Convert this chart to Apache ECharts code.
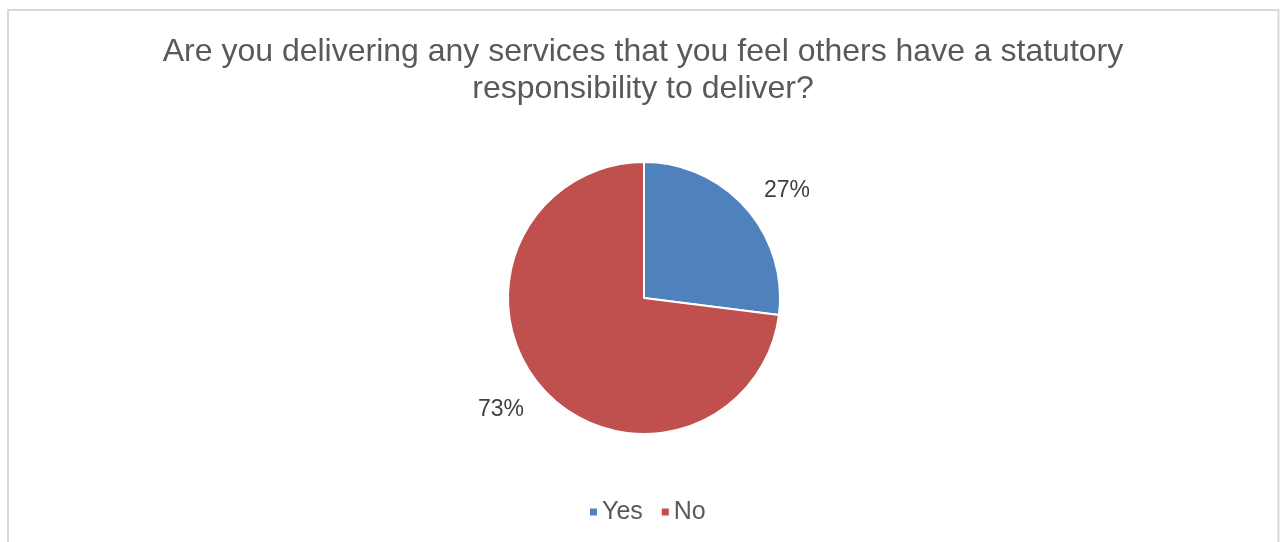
<!DOCTYPE html>
<html>
<head>
<meta charset="utf-8">
<script src="https://cdn.jsdelivr.net/npm/echarts@6/dist/echarts.min.js"></script>
<style>
  html, body { margin: 0; padding: 0; background: #ffffff; }
  #chart { width: 1285px; height: 542px; }
</style>
</head>
<body>
<div id="chart"></div>
<script>
// Survey answers and their shares (percent)
const categories = ['Yes', 'No'];
const shares = [27, 73];
const colors = ['#4F81BD', '#C0504D'];
const titleText = 'Are you delivering any services that you feel others have a statutory\nresponsibility to deliver?';

const FONT = '"Liberation Sans", Arial, sans-serif';

const chart = echarts.init(document.getElementById('chart'), null, { renderer: 'canvas' });

chart.setOption({
  animation: false,
  backgroundColor: '#ffffff',
  graphic: [{
    type: 'rect',
    shape: { x: 8, y: 10, width: 1270.5, height: 600 },
    style: { fill: 'none', stroke: '#d9d9d9', lineWidth: 2 },
    silent: true,
    z: -1
  }],
  title: {
    text: titleText,
    left: 643,
    top: 34,
    padding: 0,
    textAlign: 'center',
    textStyle: {
      fontFamily: FONT,
      fontSize: 32,
      fontWeight: 'normal',
      color: '#595959',
      lineHeight: 37
    }
  },
  legend: {
    data: categories,
    left: 590,
    top: 499,
    padding: 0,
    icon: 'rect',
    itemWidth: 7,
    itemHeight: 7,
    itemGap: 19,
    itemStyle: { borderWidth: 0 },
    textStyle: {
      fontFamily: FONT,
      fontSize: 25,
      color: '#595959',
      lineHeight: 26
    }
  },
  series: [{
    type: 'pie',
    center: [644, 298],
    radius: 136,
    startAngle: 90,
    clockwise: true,
    avoidLabelOverlap: false,
    itemStyle: { borderColor: '#ffffff', borderWidth: 2 },
    label: {
      show: true,
      position: 'outside',
      formatter: '{c}%',
      fontFamily: FONT,
      fontSize: 23,
      color: '#404040',
      distanceToLabelLine: 0
    },
    // labels sit a little further out vertically, like a best-fit placement
    labelLayout: function (params) {
      const below = params.labelRect.y + params.labelRect.height / 2 > 298;
      return { dy: below ? 6 : -2 };
    },
    labelLine: { show: false, length: 24, length2: 0 },
    emphasis: { disabled: true },
    data: categories.map((name, i) => ({
      name: name,
      value: shares[i],
      itemStyle: { color: colors[i] }
    }))
  }]
});
</script>
</body>
</html>
